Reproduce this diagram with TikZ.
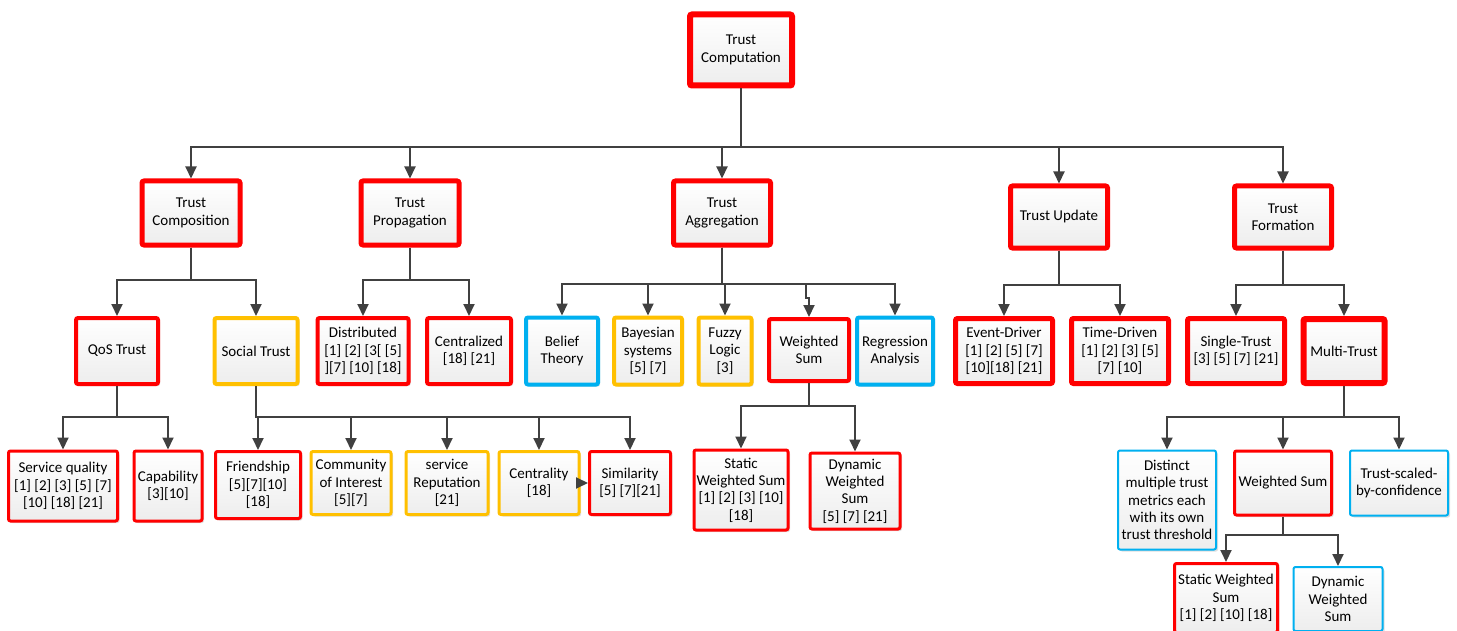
\documentclass[tikz,border=0pt]{standalone}
\usepackage{fontspec}
\setmainfont{Carlito}
\usepackage{tikz}
\usetikzlibrary{positioning,arrows.meta,shadows}

\definecolor{boxred}{HTML}{FF0000}
\definecolor{boxorange}{HTML}{FFC000}
\definecolor{boxblue}{HTML}{00B0F0}
\definecolor{linegray}{HTML}{404040}

\begin{document}
\begin{tikzpicture}
      % Set up styles (1 unit = 1 pixel of the reference)
      [x=0.5pt, y=-0.5pt,
       font=\fontsize{7.5}{8.7}\selectfont,
       box/.style={draw, align=center, inner sep=1pt, rounded corners=1pt,
                   top color=white, bottom color=gray!14,
                   drop shadow={shadow xshift=1pt, shadow yshift=-1pt, opacity=0.25}},
       redbox/.style={box, draw=boxred},
       orangebox/.style={box, draw=boxorange},
       bluebox/.style={box, draw=boxblue},
       arr/.style={draw=linegray, line width=1pt, -{Triangle[width=5.5pt,length=6pt]}}]

      \clip (0,0) rectangle (1457,631);

      % Root
      \node[redbox, line width=3pt, minimum width=51pt, minimum height=35.5pt] (tc) at (741,50) {Trust\\Computation};

      % Second level
      \node[redbox, line width=2.5pt, minimum width=49pt, minimum height=32pt] (comp) at (191,213) {Trust\\Composition};
      \node[redbox, line width=2.5pt, minimum width=49pt, minimum height=32pt] (prop) at (410,213) {Trust\\Propagation};
      \node[redbox, line width=2.5pt, minimum width=48.5pt, minimum height=32pt] (aggr) at (722,213) {Trust\\Aggregation};
      \node[redbox, line width=2.5pt, minimum width=48.5pt, minimum height=31pt] (upd) at (1059,217) {Trust Update};
      \node[redbox, line width=2.5pt, minimum width=48.5pt, minimum height=31pt] (form) at (1283,217) {Trust\\Formation};

      % Third level
      \node[redbox, line width=2pt, minimum width=41pt, minimum height=33pt] (qos) at (117,351) {QoS Trust};
      \node[orangebox, line width=2pt, minimum width=41.5pt, minimum height=33pt] (social) at (256,351) {Social Trust};
      \node[redbox, line width=2pt, minimum width=45.5pt, minimum height=33pt] (dist) at (363,351) {Distributed\\{[1] [2] [3[ [5]}\\{][7] [10] [18]}};
      \node[redbox, line width=2pt, minimum width=42pt, minimum height=33pt] (cent) at (469,351) {Centralized\\{[18] [21]}};
      \node[bluebox, line width=2pt, minimum width=36pt, minimum height=33.5pt] (belief) at (562,351) {Belief\\Theory};
      \node[orangebox, line width=2pt, minimum width=34pt, minimum height=33.5pt] (bayes) at (648,351) {Bayesian\\systems\\{[5] [7]}};
      \node[orangebox, line width=2pt, minimum width=26.5pt, minimum height=33.5pt] (fuzzy) at (725,351) {Fuzzy\\Logic\\{[3]}};
      \node[redbox, line width=2pt, minimum width=40pt, minimum height=31pt] (wsum) at (809,350) {Weighted\\Sum};
      \node[bluebox, line width=2pt, minimum width=38pt, minimum height=33.5pt] (regr) at (895,351) {Regression\\Analysis};
      \node[redbox, line width=2.5pt, minimum width=48.5pt, minimum height=32.5pt] (event) at (1004,351) {Event-Driver\\{[1] [2] [5] [7]}\\{[10][18] [21]}};
      \node[redbox, line width=2.5pt, minimum width=48.5pt, minimum height=32.5pt] (time) at (1120,351) {Time-Driven\\{[1] [2] [3] [5]}\\{[7] [10]}};
      \node[redbox, line width=2.5pt, minimum width=48.5pt, minimum height=32.5pt] (single) at (1236,351) {Single-Trust\\{[3] [5] [7] [21]}};
      \node[redbox, line width=3pt, minimum width=40.5pt, minimum height=32pt] (multi) at (1344,351) {Multi-Trust};

      % Fourth level
      \node[redbox, line width=1.5pt, minimum width=54.5pt, minimum height=35pt] (servq) at (63,486) {Service quality\\{[1] [2] [3] [5] [7]}\\{[10] [18] [21]}};
      \node[redbox, line width=1.5pt, minimum width=34pt, minimum height=35pt] (capab) at (168,486) {Capability\\{[3][10]}};
      \node[redbox, line width=1.5pt, minimum width=42.5pt, minimum height=33.5pt] (friend) at (258,485) {Friendship\\{[5][7][10]}\\{[18]}};
      \node[orangebox, line width=1.5pt, minimum width=40pt, minimum height=31.5pt] (coi) at (351,483) {Community\\of Interest\\{[5][7]}};
      \node[orangebox, line width=1.5pt, minimum width=41pt, minimum height=31.5pt] (srep) at (447,483) {service\\Reputation\\{[21]}};
      \node[orangebox, line width=1.5pt, minimum width=40pt, minimum height=31.5pt] (centr) at (539,483) {Centrality\\{[18]}};
      \node[redbox, line width=1.5pt, minimum width=40.5pt, minimum height=31.5pt] (simil) at (630,483) {Similarity\\{[5] [7][21]}};
      \node[redbox, line width=1.5pt, minimum width=47pt, minimum height=40pt] (sws) at (741,490) {Static\\Weighted Sum\\{[1] [2] [3] [10]}\\{[18]}};
      \node[redbox, line width=1.5pt, minimum width=45pt, minimum height=38pt] (dws) at (855,491) {Dynamic\\Weighted\\Sum\\{[5] [7] [21]}};
      \node[bluebox, line width=1pt, minimum width=49pt, minimum height=49.5pt] (distinct) at (1167,500) {Distinct\\multiple trust\\metrics each\\with its own\\trust threshold};
      \node[redbox, line width=1.5pt, minimum width=48.5pt, minimum height=32pt] (mws) at (1283,483) {Weighted Sum};
      \node[bluebox, line width=1pt, minimum width=49pt, minimum height=32.5pt] (tsc) at (1399,483) {Trust-scaled-\\by-confidence};

      % Fifth level
      \node[redbox, line width=1.5pt, minimum width=51.5pt, minimum height=34.5pt] (sws2) at (1226,598) {Static Weighted\\Sum\\{[1] [2] [10] [18]}};
      \node[bluebox, line width=1pt, minimum width=44.5pt, minimum height=32pt] (dws2) at (1338,599) {Dynamic\\Weighted\\Sum};

      % Draw edges
      \draw[arr] (tc.south) -- ++(0,59) -| (comp);
      \draw[arr] (tc.south) -- ++(0,59) -| (prop);
      \draw[arr] (tc.south) -- ++(0,59) -| (aggr);
      \draw[arr] (tc.south) -- ++(0,59) -| (upd);
      \draw[arr] (tc.south) -- ++(0,59) -| (form);

      \draw[arr] (comp.south) -- ++(0,32) -| (qos);
      \draw[arr] (comp.south) -- ++(0,32) -| (social);
      \draw[arr] (prop.south) -- ++(0,32) -| (dist);
      \draw[arr] (prop.south) -- ++(0,32) -| (cent);
      \draw[arr] (aggr.south) -- ++(0,36) -| (belief);
      \draw[arr] (aggr.south) -- ++(0,36) -| (bayes);
      \draw[arr] (aggr.south) -- ++(0,36) -| (fuzzy);
      \draw[arr] (aggr.south) -- ++(0,36) -| ++(84,14) -- ++(3,0) -- (wsum);
      \draw[arr] (aggr.south) -- ++(0,36) -| (regr);
      \draw[arr] (upd.south) -- ++(0,34) -| (event);
      \draw[arr] (upd.south) -- ++(0,34) -| (time);
      \draw[arr] (form.south) -- ++(0,34) -| (single);
      \draw[arr] (form.south) -- ++(0,34) -| (multi);

      \draw[arr] (qos.south) -- ++(0,31) -| (servq);
      \draw[arr] (qos.south) -- ++(0,31) -| (capab);
      \draw[arr] (social.south) -- ++(0,31) -| (friend);
      \draw[arr] (social.south) -- ++(0,31) -| (coi);
      \draw[arr] (social.south) -- ++(0,31) -| (srep);
      \draw[arr] (social.south) -- ++(0,31) -| (centr);
      \draw[arr] (social.south) -- ++(0,31) -| (simil);
      \draw[arr] (centr) -- (simil);
      \draw[arr] (wsum.south) -- ++(0,23) -| (sws);
      \draw[arr] (wsum.south) -- ++(0,23) -| (dws);
      \draw[arr] (multi.south) -- ++(0,31) -| (distinct);
      \draw[arr] (multi.south) -- ++(0,31) -| (mws);
      \draw[arr] (multi.south) -- ++(0,31) -| (tsc);
      \draw[arr] (mws.south) -- ++(0,18) -| (sws2);
      \draw[arr] (mws.south) -- ++(0,18) -| (dws2);

\end{tikzpicture}
\end{document}
